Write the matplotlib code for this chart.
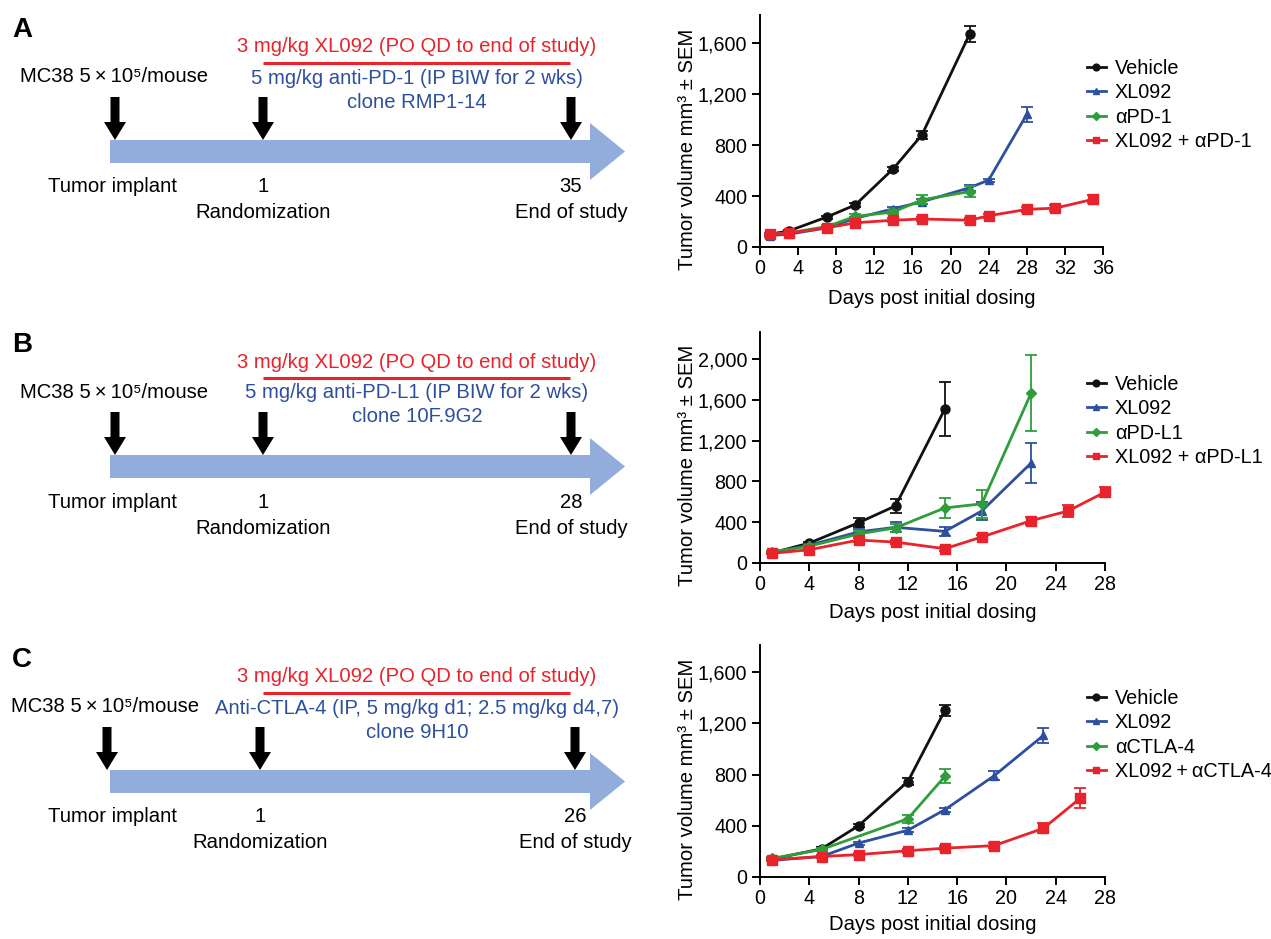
import matplotlib
matplotlib.use("Agg")
import matplotlib.pyplot as plt
from matplotlib.patches import Polygon
from matplotlib.lines import Line2D
from matplotlib.ticker import FuncFormatter

plt.rcParams['font.family'] = ['Liberation Sans', 'DejaVu Sans']

W, H = 1271, 939

# ---------------- data ----------------
# Panel A (anti-PD-1)
a_veh_days = [1, 3, 7, 10, 14, 17, 22]
a_veh_vals = [100, 125, 235, 330, 615, 880, 1670]
a_veh_err = [12, 10, 12, 15, 15, 30, 60]
a_xl_days = [1, 3, 7, 10, 14, 17, 22, 24, 28]
a_xl_vals = [90, 100, 150, 225, 300, 355, 465, 525, 1040]
a_xl_err = [8, 8, 10, 12, 15, 20, 25, 12, 60]
a_ab_days = [1, 3, 7, 10, 14, 17, 22]
a_ab_vals = [100, 110, 160, 240, 275, 370, 435]
a_ab_err = [10, 10, 12, 15, 15, 35, 45]
a_co_days = [1, 3, 7, 10, 14, 17, 22, 24, 28, 31, 35]
a_co_vals = [100, 110, 150, 190, 210, 220, 210, 245, 295, 305, 375]
a_co_err = [10, 8, 10, 12, 15, 15, 18, 15, 18, 22, 30]

# Panel B (anti-PD-L1)
b_veh_days = [1, 4, 8, 11, 15]
b_veh_vals = [100, 195, 395, 560, 1510]
b_veh_err = [10, 15, 45, 65, 260]
b_xl_days = [1, 4, 8, 11, 15, 18, 22]
b_xl_vals = [100, 175, 305, 350, 310, 510, 980]
b_xl_err = [10, 15, 30, 50, 45, 90, 195]
b_ab_days = [1, 4, 8, 11, 15, 18, 22]
b_ab_vals = [110, 165, 285, 345, 540, 580, 1665]
b_ab_err = [10, 15, 25, 40, 95, 140, 370]
b_co_days = [1, 4, 8, 11, 15, 18, 22, 25, 28]
b_co_vals = [95, 130, 225, 205, 140, 255, 415, 510, 695]
b_co_err = [10, 15, 20, 20, 20, 20, 40, 60, 50]

# Panel C (anti-CTLA-4)
c_veh_days = [1, 5, 8, 12, 15]
c_veh_vals = [140, 220, 400, 745, 1300]
c_veh_err = [10, 12, 12, 30, 45]
c_xl_days = [1, 5, 8, 12, 15, 19, 23]
c_xl_vals = [130, 160, 265, 365, 525, 790, 1105]
c_xl_err = [8, 10, 12, 15, 15, 35, 60]
c_ab_days = [1, 5, 12, 15]
c_ab_vals = [145, 215, 455, 785]
c_ab_err = [10, 12, 30, 55]
c_co_days = [1, 5, 8, 12, 15, 19, 23, 26]
c_co_vals = [135, 160, 175, 205, 225, 245, 380, 615]
c_co_err = [10, 10, 12, 15, 15, 18, 40, 80]

series_names = ["Vehicle", "XL092"]
ab_names = ["\u03b1PD-1", "\u03b1PD-L1", "\u03b1CTLA-4"]
combo_names = ["XL092 + \u03b1PD-1", "XL092 + \u03b1PD-L1", "XL092\u2009+\u2009\u03b1CTLA-4"]

a_yticks = [0, 400, 800, 1200, 1600]
b_yticks = [0, 400, 800, 1200, 1600, 2000]
c_yticks = [0, 400, 800, 1200, 1600]
a_xticks = list(range(0, 37, 4))
bc_xticks = list(range(0, 29, 4))

# Diagram texts
red_text = "3 mg/kg XL092 (PO QD to end of study)"
blue_texts = [
    ("5 mg/kg anti-PD-1 (IP BIW for 2 wks)", "clone RMP1-14"),
    ("5 mg/kg anti-PD-L1 (IP BIW for 2 wks)", "clone 10F.9G2"),
    ("Anti-CTLA-4 (IP, 5 mg/kg d1; 2.5 mg/kg d4,7)", "clone 9H10"),
]
end_days = ["35", "28", "26"]
panel_letters = ["A", "B", "C"]

# ---------------- styling ----------------
C_BLACK = "#111111"
C_BLUE = "#2c4f9f"
C_GREEN = "#2f9e3a"
C_RED = "#e8232b"
C_ARROW = "#92acdc"
FS = 14.6
TFS = 14.2
LFS = 14.3

fig = plt.figure(figsize=(W / 100, H / 100), dpi=100)

# overlay axes in pixel coordinates for diagrams
ov = fig.add_axes([0, 0, 1, 1])
ov.set_xlim(0, W)
ov.set_ylim(H, 0)
ov.axis("off")


def down_arrow(x, y0, y1):
    sw, hw, hh = 4.5, 11, 18
    pts = [(x - sw, y0), (x + sw, y0), (x + sw, y1 - hh), (x + hw, y1 - hh),
           (x, y1), (x - hw, y1 - hh), (x - sw, y1 - hh)]
    ov.add_patch(Polygon(pts, closed=True, color="black", lw=0))


def diagram(dy, letter, blue1, blue2, endday, xs, mc_x):
    x0, x1, x2 = xs
    ov.text(12, 30 + dy, letter, fontsize=20, fontweight="bold", ha="left", va="center")
    ov.text(417, 47 + dy, red_text, color=C_RED, fontsize=FS, ha="center", va="center")
    ov.plot([263, 570], [63 + dy, 63 + dy], color=C_RED, lw=2.2, solid_capstyle="butt")
    ov.text(417, 78 + dy, blue1, color=C_BLUE, fontsize=FS, ha="center", va="center")
    ov.text(417, 102 + dy, blue2, color=C_BLUE, fontsize=FS, ha="center", va="center")
    ov.text(mc_x, 77 + dy, "MC38 5\u2009\u00d7\u200910\u2075/mouse", fontsize=FS,
            ha="center", va="center")
    # big blue arrow
    by0, by1 = 140 + dy, 163 + dy
    pts = [(110, by0), (590, by0), (590, 123 + dy), (625, 151.5 + dy),
           (590, 180 + dy), (590, by1), (110, by1)]
    ov.add_patch(Polygon(pts, closed=True, color=C_ARROW, lw=0))
    for x in (x0, x1, x2):
        down_arrow(x, 97 + dy, 140 + dy)
    ov.text(112, 187 + dy, "Tumor implant", fontsize=FS, ha="center", va="center")
    ov.text(x1, 187 + dy, "1", fontsize=FS, ha="center", va="center")
    ov.text(x2, 187 + dy, endday, fontsize=FS, ha="center", va="center")
    ov.text(x1, 213 + dy, "Randomization", fontsize=FS, ha="center", va="center")
    ov.text(x2, 213 + dy, "End of study", fontsize=FS, ha="center", va="center")


diagram(0, "A", *blue_texts[0], end_days[0], (115, 263, 571), 114)
diagram(315, "B", *blue_texts[1], end_days[1], (115, 263, 571), 114)
diagram(630, "C", *blue_texts[2], end_days[2], (107, 260, 575), 105)


def rect(l, r, t, b):
    return [l / W, 1 - b / H, (r - l) / W, (b - t) / H]


comma = FuncFormatter(lambda v, p: f"{int(v):,}")
styles = [(C_BLACK, "o", 6.5), (C_BLUE, "^", 6), (C_GREEN, "D", 5.5), (C_RED, "s", 6.5)]


def growth(rect_px, ylim, yticks, xlim, xticks, data, names, legend_px, xlabel_y):
    l, r, t, b = rect_px
    ax = fig.add_axes(rect(*rect_px))
    order = [2, 1, 3, 0]
    for i in order:
        d, v, e = data[i]
        col, mk, ms = styles[i]
        ax.errorbar(d, v, yerr=e, color=col, marker=mk, ms=ms, lw=2.0,
                    elinewidth=1.3, capsize=4, capthick=1.3, clip_on=False,
                    zorder=3 + i)
    for sp in ("top", "right"):
        ax.spines[sp].set_visible(False)
    for sp in ("left", "bottom"):
        ax.spines[sp].set_linewidth(1.4)
    ax.set_xlim(*xlim)
    ax.set_ylim(*ylim)
    ax.set_xticks(xticks)
    ax.set_yticks(yticks)
    ax.yaxis.set_major_formatter(comma)
    ax.tick_params(direction="out", length=6, width=1.4, labelsize=TFS, pad=3)
    ax.set_ylabel("Tumor volume mm\u00b3 \u00b1 SEM", fontsize=FS, va="center")
    ax.yaxis.set_label_coords((688 - l) / (r - l), 0.5 - 18 / (b - t))
    ax.set_xlabel("Days post initial dosing", fontsize=FS, va="center")
    ax.xaxis.set_label_coords(0.5, -(xlabel_y - b) / (b - t))
    handles = [Line2D([], [], color=styles[i][0], marker=styles[i][1],
                      ms=styles[i][2] * 0.75, lw=2.0) for i in range(4)]
    fig.legend(handles, names, loc="upper left",
               bbox_to_anchor=(legend_px[0] / W, 1 - legend_px[1] / H),
               frameon=False, fontsize=LFS, handlelength=0.95, handletextpad=0.45,
               labelspacing=0.27, borderaxespad=0, borderpad=0)
    return ax


growth((760, 1103, 15, 247), (0, 1820), a_yticks, (0, 36), a_xticks,
       [(a_veh_days, a_veh_vals, a_veh_err), (a_xl_days, a_xl_vals, a_xl_err),
        (a_ab_days, a_ab_vals, a_ab_err), (a_co_days, a_co_vals, a_co_err)],
       series_names + [ab_names[0], combo_names[0]], (1087, 59), 298)

growth((760, 1105, 332, 563), (0, 2265), b_yticks, (0, 28), bc_xticks,
       [(b_veh_days, b_veh_vals, b_veh_err), (b_xl_days, b_xl_vals, b_xl_err),
        (b_ab_days, b_ab_vals, b_ab_err), (b_co_days, b_co_vals, b_co_err)],
       series_names + [ab_names[1], combo_names[1]], (1087, 375), 613)

growth((760, 1105, 645, 877), (0, 1811), c_yticks, (0, 28), bc_xticks,
       [(c_veh_days, c_veh_vals, c_veh_err), (c_xl_days, c_xl_vals, c_xl_err),
        (c_ab_days, c_ab_vals, c_ab_err), (c_co_days, c_co_vals, c_co_err)],
       series_names + [ab_names[2], combo_names[2]], (1087, 689), 925)

fig.savefig("out.png", dpi=100)
